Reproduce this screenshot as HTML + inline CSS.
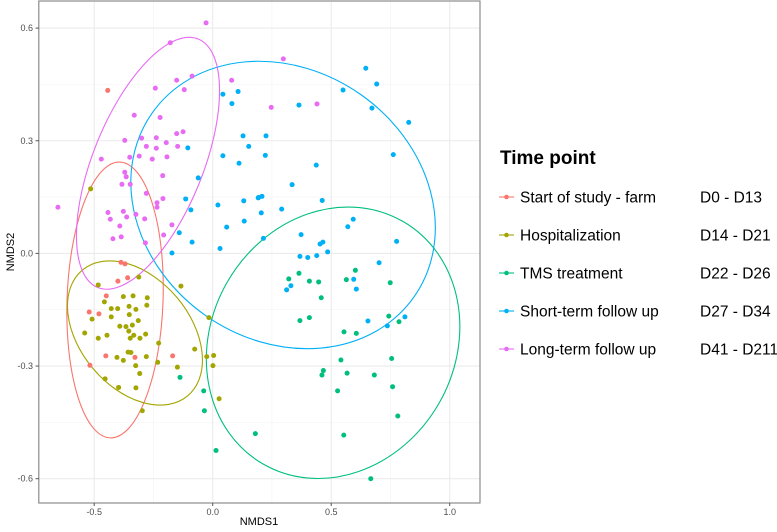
<!DOCTYPE html>
<html><head><meta charset="utf-8"><style>
body{margin:0;background:#fff;}
svg{display:block;font-family:"Liberation Sans",sans-serif;}
</style></head><body>
<svg id="chart" width="777" height="532" viewBox="0 0 777 532">
<rect width="777" height="532" fill="#fff"/>
<g id="grid"></g>
<g id="ellipses"></g>
<g id="points"></g>
<rect x="38.8" y="1" width="441.2" height="502" fill="none" stroke="#8c8c8c" stroke-width="1.2"/>
<g id="axes"></g>
<text x="259" y="525" font-size="11" text-anchor="middle" fill="#000">NMDS1</text>
<text x="14" y="252" font-size="11" text-anchor="middle" fill="#000" transform="rotate(-90 14 252)">NMDS2</text>
<g id="legend">
<text x="500" y="164" font-size="19" font-weight="bold">Time point</text>
</g>
</svg>
<script>
const xTicks=[-0.5,0,0.5,1.0];
const xTickLabels=["-0.5","0.0","0.5","1.0"];
const yTicks=[0.6,0.3,0,-0.3,-0.6];
const yTickLabels=["0.6","0.3","0.0","-0.3","-0.6"];
const groups=["Start of study - farm","Hospitalization","TMS treatment","Short-term follow up","Long-term follow up"];
const ranges=["D0 - D13","D14 - D21","D22 - D26","D27 - D34","D41 - D211"];
const colors=["#F8766D","#A3A500","#00BF7D","#00B0F6","#E76BF3"];
const farmX=[-0.443,-0.387,-0.370,-0.400,-0.359,-0.449,-0.521,-0.480,-0.451,-0.328,-0.169,-0.518];
const farmY=[0.434,-0.024,-0.028,-0.074,-0.065,-0.113,-0.156,-0.161,-0.273,-0.277,-0.273,-0.298];
const hospX=[-0.515,-0.483,-0.312,-0.134,-0.377,-0.336,-0.276,-0.457,-0.428,-0.401,-0.353,-0.324,-0.278,-0.509,-0.428,-0.352,-0.314,-0.392,-0.366,-0.339,-0.016,-0.540,-0.483,-0.446,-0.354,-0.348,-0.333,-0.307,-0.283,-0.228,-0.076,-0.357,-0.345,-0.404,-0.377,-0.280,-0.025,0.004,-0.325,-0.232,-0.149,0.001,-0.308,-0.454,-0.397,-0.324,0.027,-0.297];
const hospY=[0.172,-0.084,-0.063,-0.087,-0.115,-0.113,-0.118,-0.129,-0.147,-0.147,-0.141,-0.149,-0.138,-0.175,-0.169,-0.163,-0.179,-0.194,-0.195,-0.191,-0.171,-0.212,-0.226,-0.218,-0.207,-0.226,-0.218,-0.226,-0.215,-0.239,-0.255,-0.263,-0.264,-0.277,-0.285,-0.275,-0.275,-0.272,-0.299,-0.290,-0.303,-0.299,-0.320,-0.334,-0.357,-0.358,-0.387,-0.419];
const tmsX=[-0.138,-0.038,-0.035,0.180,0.014,0.321,0.364,0.408,0.447,0.564,0.602,0.749,0.458,0.368,0.408,0.554,0.606,0.743,0.786,0.541,0.755,0.467,0.461,0.567,0.682,0.527,0.759,0.781,0.553,0.667];
const tmsY=[-0.330,-0.366,-0.419,-0.480,-0.525,-0.068,-0.053,-0.074,-0.076,-0.070,-0.045,-0.078,-0.118,-0.179,-0.171,-0.209,-0.213,-0.167,-0.182,-0.284,-0.280,-0.312,-0.324,-0.319,-0.324,-0.366,-0.355,-0.433,-0.484,-0.600];
const shortX=[0.043,0.107,0.081,0.128,0.152,-0.105,0.043,0.111,-0.061,-0.114,-0.092,0.022,0.131,0.192,0.133,0.059,-0.141,-0.087,0.031,-0.172,0.646,0.692,0.550,0.364,0.672,0.827,0.225,0.222,0.762,0.437,0.335,0.194,0.208,0.462,0.291,0.205,0.593,0.570,0.214,0.373,0.465,0.453,0.776,0.368,0.401,0.439,0.485,0.702,0.595,0.606,0.312,0.330,0.655,0.737,0.811];
const shortY=[0.424,0.431,0.399,0.313,0.285,0.281,0.260,0.240,0.201,0.145,0.116,0.129,0.140,0.148,0.086,0.070,0.055,0.030,0.013,0.001,0.493,0.451,0.435,0.395,0.387,0.349,0.313,0.261,0.263,0.235,0.183,0.149,0.152,0.141,0.118,0.108,0.091,0.071,0.040,0.050,0.030,0.025,0.032,-0.008,-0.011,-0.006,0.004,-0.025,-0.069,-0.095,-0.097,-0.086,-0.180,-0.193,-0.169];
const longX=[-0.028,-0.179,-0.152,-0.087,0.080,-0.242,-0.120,-0.331,-0.222,-0.371,-0.300,-0.238,-0.152,-0.125,-0.280,-0.238,-0.196,-0.148,-0.470,-0.350,-0.310,-0.255,-0.193,-0.371,-0.365,-0.211,-0.383,-0.348,-0.280,-0.210,-0.235,-0.235,-0.653,-0.442,-0.377,-0.432,-0.363,-0.324,-0.287,-0.392,-0.172,-0.421,-0.386,-0.207,-0.284,0.298,0.247,0.440];
const longY=[0.614,0.561,0.461,0.472,0.461,0.440,0.436,0.368,0.362,0.301,0.307,0.308,0.319,0.324,0.285,0.280,0.295,0.285,0.251,0.256,0.259,0.251,0.257,0.216,0.204,0.207,0.184,0.184,0.160,0.146,0.135,0.123,0.123,0.109,0.112,0.091,0.097,0.104,0.092,0.073,0.076,0.039,0.044,0.049,0.028,0.518,0.389,0.398];
const ellCX=[-0.412,-0.328,0.508,0.297,-0.273];
const ellCY=[-0.124,-0.212,-0.238,0.129,0.240];
const ellRX=[48,82,140,160,55];
const ellRY=[138,55,122,135,134];
const ellRot=[2,50,-60,35,22];

const X=v=>212.7+v*237, Y=v=>253.4-v*375.5;
const NS="http://www.w3.org/2000/svg";
function mk(tag,attrs,parent){const e=document.createElementNS(NS,tag);for(const k in attrs)e.setAttribute(k,attrs[k]);parent.appendChild(e);return e;}
const grid=document.getElementById('grid'),axes=document.getElementById('axes');
// minor grid
for(let i=0;i<xTicks.length+1;i++){const v=-0.75+i*0.5;const px=X(v);if(px>39&&px<480){const l=mk('line',{x1:px,x2:px,y1:1,y2:503,stroke:'#f3f3f3','stroke-width':0.6},grid);

}}
for(let i=0;i<yTicks.length+1;i++){const v=0.75-i*0.3;const py=Y(v);if(py>1&&py<503){const l=mk('line',{x1:39,x2:480,y1:py,y2:py,stroke:'#f3f3f3','stroke-width':0.6},grid);

}}
xTicks.forEach((v,i)=>{const px=X(v);
const l=mk('line',{x1:px,x2:px,y1:1,y2:503,stroke:'#ebebeb','stroke-width':1.1},grid);


const t=mk('line',{x1:px,x2:px,y1:503,y2:506,stroke:'#555','stroke-width':1},axes);


const tx=mk('text',{x:px,y:515,'font-size':9,'text-anchor':'middle',fill:'#4d4d4d'},axes);tx.textContent=xTickLabels[i];

});
yTicks.forEach((v,i)=>{const py=Y(v);
const l=mk('line',{x1:39,x2:480,y1:py,y2:py,stroke:'#ebebeb','stroke-width':1.1},grid);


const t=mk('line',{x1:35.5,x2:38.8,y1:py,y2:py,stroke:'#555','stroke-width':1},axes);


const tx=mk('text',{x:33,y:py+3,'font-size':9,'text-anchor':'end',fill:'#4d4d4d'},axes);tx.textContent=yTickLabels[i];

});
const ell=document.getElementById('ellipses');
ellCX.forEach((cx,i)=>{const px=X(cx),py=Y(ellCY[i]);
const e=mk('ellipse',{cx:px,cy:py,rx:ellRX[i],ry:ellRY[i],fill:'none',stroke:colors[i],'stroke-width':1.1,transform:`rotate(${ellRot[i]} ${px} ${py})`},ell);

});
const pts=document.getElementById('points');
const sets=[[farmX,farmY],[hospX,hospY],[tmsX,tmsY],[shortX,shortY],[longX,longY]];
sets.forEach((s,g)=>{s[0].forEach((x,j)=>{
const c=mk('circle',{cx:X(x),cy:Y(s[1][j]),r:2.5,fill:colors[g]},pts);

});});
const lg=document.getElementById('legend');
groups.forEach((name,i)=>{const y=197+i*38;
const l=mk('line',{x1:499,x2:514,y1:y,y2:y,stroke:colors[i],'stroke-width':1.1},lg);


const c=mk('circle',{cx:506.5,cy:y,r:2.3,fill:colors[i]},lg);


const t=mk('text',{x:520,y:y+5.5,'font-size':15.5,fill:'#000'},lg);t.textContent=name;


const r=mk('text',{x:700,y:y+5.5,'font-size':15.5,fill:'#000'},lg);r.textContent=ranges[i];

});
</script>
</body></html>
